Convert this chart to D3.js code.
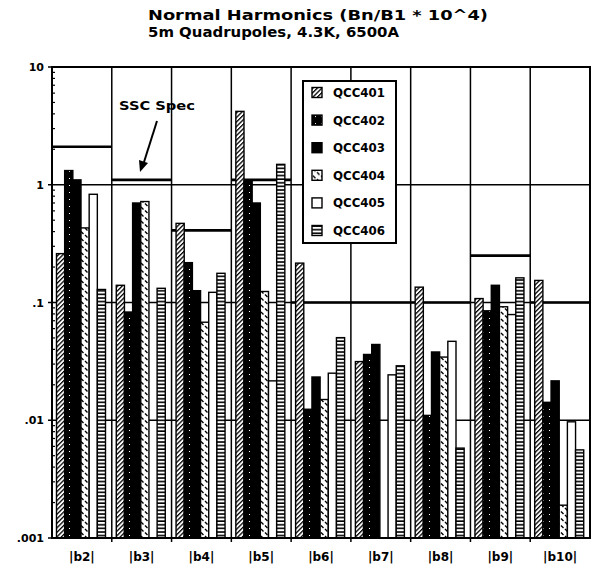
<!DOCTYPE html>
<html><head><meta charset="utf-8">
<script src="https://cdn.jsdelivr.net/npm/d3@7"></script>
<style>
html,body{margin:0;padding:0;background:#fff;}
svg{display:block;}
text{font-family:"DejaVu Sans",sans-serif;font-weight:bold;fill:#000;}
</style></head>
<body>
<svg id="chart" width="598" height="567"></svg>
<script>
const categories = ["|b2|","|b3|","|b4|","|b5|","|b6|","|b7|","|b8|","|b9|","|b10|"];
const seriesNames = ["QCC401","QCC402","QCC403","QCC404","QCC405","QCC406"];
const QCC401 = [0.26, 0.14, 0.47, 4.2, 0.216, 0.0315, 0.135, 0.108, 0.154];
const QCC402 = [1.32, 0.083, 0.218, 1.08, 0.0124, 0.0362, 0.011, 0.085, 0.0142];
const QCC403 = [1.10, 0.70, 0.126, 0.70, 0.0233, 0.044, 0.038, 0.14, 0.0216];
const QCC404 = [0.43, 0.72, 0.068, 0.124, 0.015, null, 0.0344, 0.092, 0.0019];
const QCC405 = [0.83, null, 0.122, 0.0216, 0.0251, 0.0243, 0.0468, 0.079, 0.0097];
const QCC406 = [0.129, 0.132, 0.177, 1.49, 0.0503, 0.029, 0.0058, 0.162, 0.0056];
const sscSpec = [2.1, 1.1, 0.41, 1.1, 0.1, 0.1, 0.1, 0.25, 0.1];
const yTickValues = [0.001, 0.01, 0.1, 1, 10];
const yTickLabels = [".001", ".01", ".1", "1", "10"];
const titleLines = ["Normal Harmonics (Bn/B1 * 10^4)", "5m Quadrupoles, 4.3K, 6500A"];
const seriesValues = [QCC401, QCC402, QCC403, QCC404, QCC405, QCC406];

const svg = d3.select("#chart");
const L = 52, R = 590, T = 67, B = 538;

// patterns
const defs = svg.append("defs");
function pat(id, w, h, tr) {
  const p = defs.append("pattern").attr("id", id).attr("patternUnits", "userSpaceOnUse")
    .attr("width", w).attr("height", h);
  if (tr) p.attr("patternTransform", tr);
  return p;
}
let p = pat("p401", 3.2, 3.2, "rotate(45)");
p.append("rect").attr("width", 3.2).attr("height", 3.2).attr("fill", "#fff");
p.append("rect").attr("width", 1.3).attr("height", 3.2).attr("fill", "#000");
p = pat("p402", 6, 7);
p.append("rect").attr("width", 6).attr("height", 7).attr("fill", "#000");
p.append("rect").attr("x", 3).attr("y", 3).attr("width", 1).attr("height", 1).attr("fill", "#fff");
p = pat("p404", 8, 7);
p.append("rect").attr("width", 8).attr("height", 7).attr("fill", "#fff");
p.append("path").attr("d", "M1,0.5 L3.5,3 M5,4 L7.5,6.5").attr("stroke", "#000").attr("stroke-width", 1.4);
p = pat("p406", 8, 3.6);
p.append("rect").attr("width", 8).attr("height", 3.6).attr("fill", "#fff");
p.append("rect").attr("y", 2).attr("width", 8).attr("height", 1.6).attr("fill", "#000");
const fills = ["url(#p401)", "url(#p402)", "#000", "url(#p404)", "#fff", "url(#p406)"];

// scales
const y = d3.scaleLog().domain([0.001, 10]).range([B, T]);
const x0 = d3.scaleBand().domain(categories).range([L, R]).padding(0);
const x1 = d3.scaleBand().domain(seriesNames).range([4.5, 53.5]).padding(0);

// title
svg.selectAll("text.title").data(titleLines).join("text")
  .attr("class", "title")
  .attr("x", 148).attr("y", (d, i) => 20 + i * 17)
  .attr("font-size", 14)
  .attr("textLength", (d, i) => i === 0 ? 340 : 251)
  .attr("lengthAdjust", "spacingAndGlyphs")
  .text(d => d);

// gridlines
const grid = svg.append("g");
grid.selectAll("line.h").data([0.01, 0.1, 1]).join("line")
  .attr("x1", L).attr("x2", R).attr("y1", d => y(d)).attr("y2", d => y(d))
  .attr("stroke", "#000").attr("stroke-width", 1.5);
const bounds = categories.slice(1).map(c => x0(c));
grid.selectAll("line.v").data(bounds).join("line")
  .attr("x1", d => d).attr("x2", d => d).attr("y1", T).attr("y2", B)
  .attr("stroke", "#000").attr("stroke-width", 1.5);

// spec lines
svg.append("g").selectAll("line").data(sscSpec).join("line")
  .attr("x1", (d, i) => x0(categories[i])).attr("x2", (d, i) => x0(categories[i]) + x0.bandwidth())
  .attr("y1", d => y(d)).attr("y2", d => y(d))
  .attr("stroke", "#000").attr("stroke-width", 2.6);

// bars
const barData = [];
categories.forEach((c, i) => seriesNames.forEach((s, j) => {
  const v = seriesValues[j][i];
  if (v != null) barData.push({c, s, j, v});
}));
svg.append("g").selectAll("rect").data(barData).join("rect")
  .attr("x", d => x0(d.c) + x1(d.s))
  .attr("y", d => y(d.v))
  .attr("width", x1.bandwidth())
  .attr("height", d => B - y(d.v))
  .attr("fill", d => fills[d.j])
  .attr("stroke", "#000").attr("stroke-width", 1.4);

// frame
svg.append("rect").attr("x", L).attr("y", T).attr("width", R - L).attr("height", B - T)
  .attr("fill", "none").attr("stroke", "#000").attr("stroke-width", 2);

// y axis ticks
const minor = [];
for (let e = -3; e < 1; e++) for (let k = 2; k <= 9; k++) minor.push(k * Math.pow(10, e));
svg.append("g").selectAll("line").data(minor).join("line")
  .attr("x1", L).attr("x2", L + 3).attr("y1", d => y(d)).attr("y2", d => y(d))
  .attr("stroke", "#000").attr("stroke-width", 1.2);
svg.append("g").selectAll("line").data(yTickValues).join("line")
  .attr("x1", L - 4).attr("x2", L).attr("y1", d => y(d)).attr("y2", d => y(d))
  .attr("stroke", "#000").attr("stroke-width", 1.5);
svg.append("g").selectAll("text").data(yTickValues).join("text")
  .attr("x", 44).attr("y", d => y(d) + 4)
  .attr("text-anchor", "end").attr("font-size", 11)
  .text((d, i) => yTickLabels[i]);

// x axis ticks & labels
svg.append("g").selectAll("line").data(bounds).join("line")
  .attr("x1", d => d).attr("x2", d => d).attr("y1", B).attr("y2", B + 4)
  .attr("stroke", "#000").attr("stroke-width", 1.5);
svg.append("g").selectAll("text").data(categories).join("text")
  .attr("x", d => x0(d) + x0.bandwidth() / 2).attr("y", 561)
  .attr("text-anchor", "middle").attr("font-size", 12)
  .text(d => d);

// SSC Spec annotation
svg.append("text").attr("x", 119).attr("y", 110).attr("font-size", 13)
  .attr("textLength", 76).attr("lengthAdjust", "spacingAndGlyphs").text("SSC Spec");
svg.append("line").attr("x1", 157).attr("y1", 121).attr("x2", 144).attr("y2", 162)
  .attr("stroke", "#000").attr("stroke-width", 2);
svg.append("path").attr("d", "M140,172 L139,160 L148,163 Z").attr("fill", "#000");

// legend
const lg = svg.append("g");
lg.append("rect").attr("x", 303).attr("y", 81).attr("width", 93).attr("height", 162)
  .attr("fill", "#fff").attr("stroke", "#000").attr("stroke-width", 2);
const li = lg.selectAll("g.it").data(seriesNames).join("g").attr("class", "it")
  .attr("transform", (d, i) => `translate(312,${92.5 + i * 27.6})`);
li.append("rect").attr("x", 0).attr("y", -5).attr("width", 10).attr("height", 10)
  .attr("fill", (d, i) => fills[i]).attr("stroke", "#000").attr("stroke-width", 1.4);
li.append("text").attr("x", 21).attr("y", 4.5).attr("font-size", 11.5)
  .attr("textLength", 52).attr("lengthAdjust", "spacingAndGlyphs").text(d => d);
</script>
</body></html>
